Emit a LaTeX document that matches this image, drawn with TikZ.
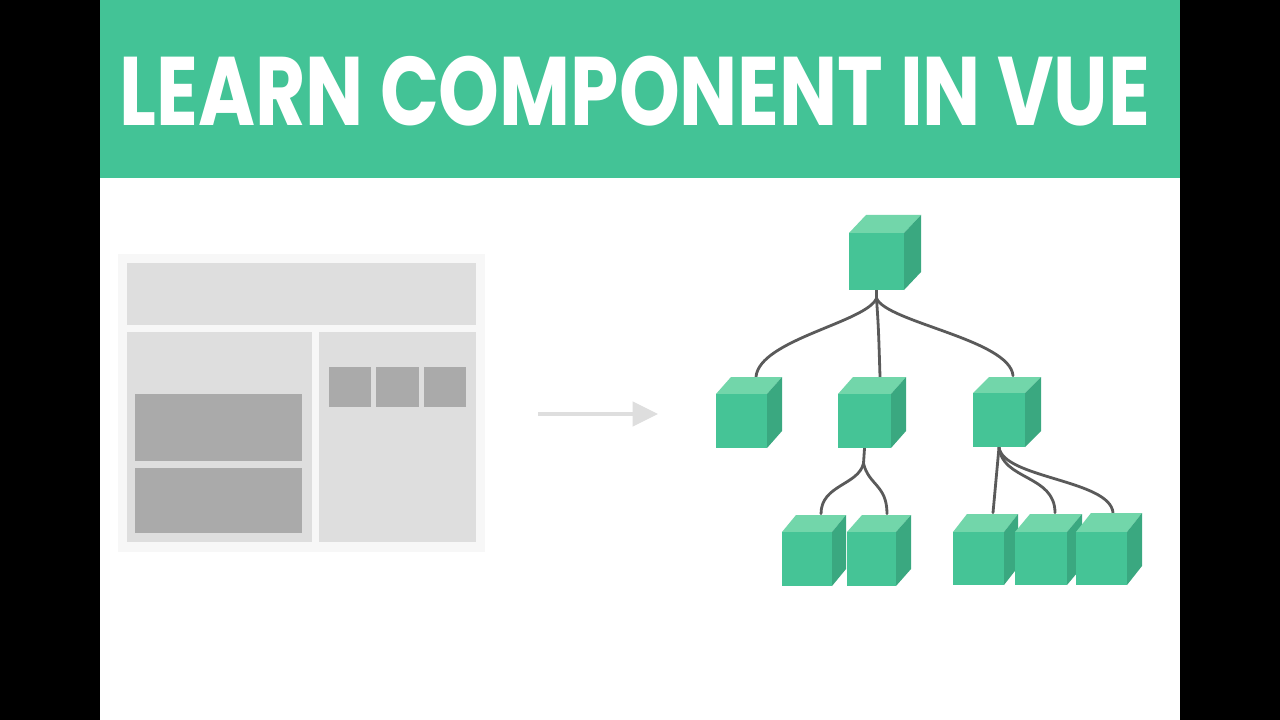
\documentclass[tikz,border=0pt]{standalone}
\usepackage{fontspec}
\newfontfamily\titlefont{Poppins}
\usetikzlibrary{arrows.meta,calc,fit}
\definecolor{vuegreen}{RGB}{67,195,150}
\definecolor{cfront}{RGB}{69,196,150}
\definecolor{ctop}{RGB}{114,214,170}
\definecolor{cside}{RGB}{58,168,128}
\definecolor{outerbg}{RGB}{247,247,247}
\definecolor{panelbg}{RGB}{222,222,222}
\definecolor{blockbg}{RGB}{170,170,170}
\definecolor{arrowgray}{RGB}{222,222,222}
\definecolor{wire}{RGB}{90,90,90}
\tikzset{
  cubefront/.style={fill=cfront, inner sep=0pt, outer sep=0pt},
  cubetop/.style={fill=ctop},
  cubeside/.style={fill=cside},
  wireline/.style={draw=wire, line width=2.1pt, line cap=round},
  panelrect/.style={fill=panelbg},
  blockrect/.style={fill=blockbg},
}
% #1 name, #2 x1, #3 y1, #4 x2, #5 y2, #6 dx, #7 dy
\newcommand{\mycube}[7]{%
  \fill[cubetop] (#2,#3) -- (#2+#6,#3-#7) -- (#4+#6,#3-#7) -- (#4,#3) -- cycle;
  \fill[cubeside] (#4,#3) -- (#4+#6,#3-#7) -- (#4+#6,#5-#7) -- (#4,#5) -- cycle;
  \node[cubefront, fit={(#2,#3) (#4,#5)}] (#1) {};
}
\begin{document}
\begin{tikzpicture}[x=0.75pt,y=-0.75pt]
\useasboundingbox (0,0) rectangle (1280,720);
\fill[black] (0,0) rectangle (1280,720);
\fill[white] (100,0) rectangle (1180,720);
\fill[vuegreen] (100,0) rectangle (1180,178);
\node[anchor=base west, inner sep=0pt, text=white] (title) at (119,126)
  {\resizebox{773pt}{52pt}{\titlefont\bfseries LEARN COMPONENT IN VUE}};

% layout panel
\fill[outerbg] (118,254) rectangle (485,552);
\fill[panelrect] (127,263) rectangle (476,325);
\fill[panelrect] (127,332) rectangle (312,542);
\fill[panelrect] (319,332) rectangle (476,542);
\fill[blockrect] (135,394) rectangle (302,461);
\fill[blockrect] (135,468) rectangle (302,533);
\fill[blockrect] (329,367) rectangle (371,407);
\fill[blockrect] (376,367) rectangle (419,407);
\fill[blockrect] (424,367) rectangle (466,407);

% arrow
\coordinate (arrS) at (538,414);
\coordinate (arrE) at (658,414);
\draw[arrowgray, line width=3pt, -{Triangle[length=19pt,width=18pt]}] (arrS) -- (arrE);

% cube nodes (invisible placeholders first for connector anchors)
\path[use as bounding box=false] ;
\begin{scope}
\node[inner sep=0pt, fit={(849,233) (904,290)}] (root) {};
\node[inner sep=0pt, fit={(716,394) (767,448)}] (A) {};
\node[inner sep=0pt, fit={(838,394) (891,448)}] (B) {};
\node[inner sep=0pt, fit={(973,393) (1025,447)}] (C) {};
\node[inner sep=0pt, fit={(782,532) (832,586)}] (B1) {};
\node[inner sep=0pt, fit={(847,532) (896,586)}] (B2) {};
\node[inner sep=0pt, fit={(953,532) (1004,585)}] (C1) {};
\node[inner sep=0pt, fit={(1015,532) (1067,585)}] (C2) {};
\node[inner sep=0pt, fit={(1076,532) (1127,585)}] (C3) {};
\end{scope}

% connectors
\draw[wireline] (root.south) -- ++(0,8) coordinate (rj);
\draw[wireline] (rj) .. controls ($(rj)+(-10,24)$) and ($(A.north)+(18,-54)$) .. ($(A.north)+(14.5,-17)$);
\draw[wireline] (rj) .. controls ($(rj)+(2,30)$) .. ($(B.north)+(15.5,-17)$);
\draw[wireline] (rj) .. controls ($(rj)+(10,24)$) and ($(C.north)+(11,-53)$) .. ($(C.north)+(14,-17)$);
\draw[wireline] (B.south) -- ++(-1,15) coordinate (bj);
\draw[wireline] (bj) .. controls ($(bj)+(-5,22)$) and ($(B1.north)+(14,-47)$) .. ($(B1.north)+(14,-18)$);
\draw[wireline] (bj) .. controls ($(bj)+(5,22)$) and ($(B2.north)+(15.5,-47)$) .. ($(B2.north)+(15.5,-18)$);
\draw[wireline] (C.south) -- ($(C1.north)+(14.5,-19)$);
\draw[wireline] (C.south) .. controls ($(C.south)+(3,33)$) and ($(C2.north)+(14,-57)$) .. ($(C2.north)+(14,-19)$);
\draw[wireline] (C.south) .. controls ($(C.south)+(4,31)$) and ($(C3.north)+(8.5,-52)$) .. ($(C3.north)+(11.5,-19)$);

% cubes drawn on top
\mycube{rootc}{849}{233}{904}{290}{17}{18}
\mycube{Ac}{716}{394}{767}{448}{15}{17}
\mycube{Bc}{838}{394}{891}{448}{15}{17}
\mycube{Cc}{973}{393}{1025}{447}{16}{16}
\mycube{B1c}{782}{532}{832}{586}{14}{17}
\mycube{B2c}{847}{532}{896}{586}{15}{17}
\mycube{C1c}{953}{532}{1004}{585}{14}{18}
\mycube{C2c}{1015}{532}{1067}{585}{15}{18}
\mycube{C3c}{1076}{532}{1127}{585}{15}{19}
\end{tikzpicture}
\end{document}
